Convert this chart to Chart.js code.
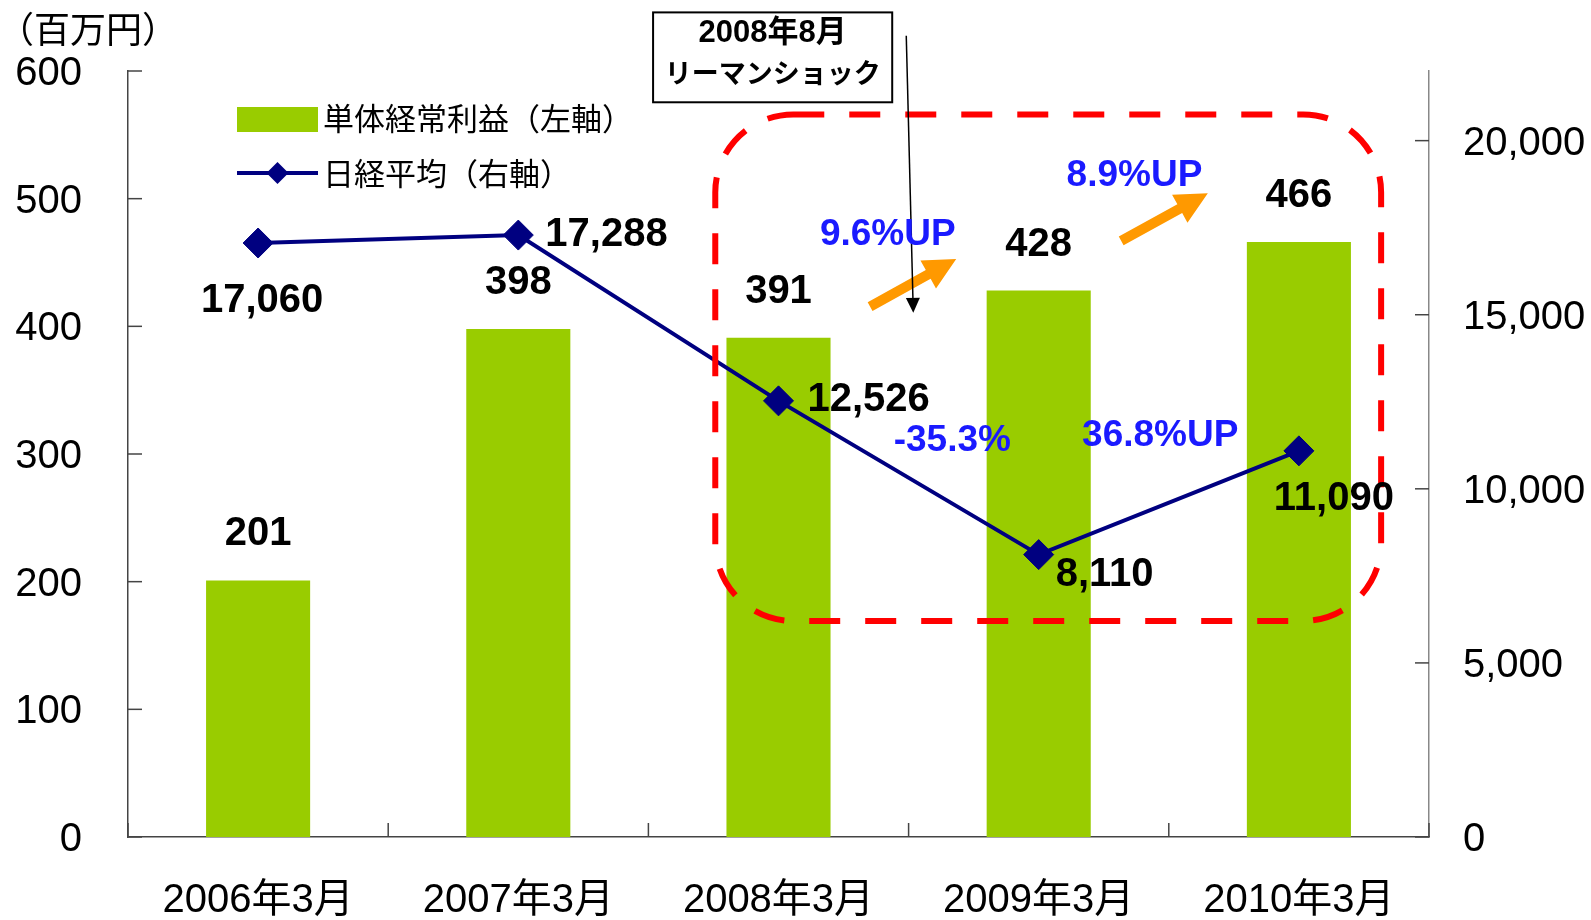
<!DOCTYPE html>
<html><head><meta charset="utf-8">
<script src="https://cdn.jsdelivr.net/npm/chart.js@4/dist/chart.umd.min.js"></script>
<style>html,body{margin:0;padding:0;background:#fff;}#wrap{width:1591px;height:920px;}</style>
</head><body><div id="wrap"><canvas id="c" width="1591" height="920"></canvas></div>
<script>
// ---- data ----
const categories = ['2006年3月','2007年3月','2008年3月','2009年3月','2010年3月'];
const profitValues = [201, 398, 391, 428, 466];
const nikkeiValues = [17060, 17288, 12526, 8110, 11090];
const leftTicks = [0, 100, 200, 300, 400, 500, 600];
const rightTicks = [0, 5000, 10000, 15000, 20000];
const leftAxisMax = 600;
const rightAxisMax = 22000;
const seriesNames = ['単体経常利益（左軸）', '日経平均（右軸）'];
const unitLabel = '（百万円）';
const eventLines = ['2008年8月', 'リーマンショック'];
const changeTexts = ['9.6%UP', '8.9%UP', '-35.3%', '36.8%UP'];

// ---- layout of decorations (in scale units: x = category index, y = left-axis value) ----
const changePos = [[2.42, 471.6], [3.368, 517.9], [2.668, 310.7], [3.467, 314.6]];
const orangeArrows = [[2.352, 415.4, 2.683, 452.8], [3.317, 467, 3.650, 504.2]];
const eventBox = [1.518, 645.9, 2.437, 575.5];
const eventArrow = [2.491, 627.6, 2.518, 410.6];
const focusRect = [1.757, 566, 4.316, 169.2];
const lineLabelOffsets = [[4, 58, 'center'], [27, 0, 'left'], [29, -1, 'left'], [17, 20, 'left'], [35, 48, 'center']];

const numFont = "'Liberation Sans', Arial, 'Noto Sans CJK JP', sans-serif";
const cjkFont = "'Noto Sans CJK JP', 'Liberation Sans', sans-serif";
const fmt = v => v.toLocaleString('en-US');

function blockArrow(ctx, x1, y1, x2, y2, sw, hw, hl, color) {
  const a = Math.atan2(y2 - y1, x2 - x1), len = Math.hypot(x2 - x1, y2 - y1);
  ctx.save(); ctx.translate(x1, y1); ctx.rotate(a);
  ctx.beginPath();
  ctx.moveTo(0, -sw / 2); ctx.lineTo(len - hl, -sw / 2); ctx.lineTo(len - hl, -hw / 2);
  ctx.lineTo(len, 0); ctx.lineTo(len - hl, hw / 2); ctx.lineTo(len - hl, sw / 2); ctx.lineTo(0, sw / 2);
  ctx.closePath(); ctx.fillStyle = color; ctx.fill(); ctx.restore();
}
function roundRectPath(ctx, x, y, w, h, r) {
  ctx.beginPath();
  ctx.moveTo(x + r, y); ctx.lineTo(x + w - r, y); ctx.arcTo(x + w, y, x + w, y + r, r);
  ctx.lineTo(x + w, y + h - r); ctx.arcTo(x + w, y + h, x + w - r, y + h, r);
  ctx.lineTo(x + r, y + h); ctx.arcTo(x, y + h, x, y + h - r, r);
  ctx.lineTo(x, y + r); ctx.arcTo(x, y, x + r, y, r); ctx.closePath();
}

const decor = {
  id: 'decor',
  afterDatasetsDraw(chart) {
    const ctx = chart.ctx, xs = chart.scales.x, yl = chart.scales.y, yr = chart.scales.y2, ca = chart.chartArea;
    const PX = v => xs.getPixelForValue(v), PY = v => yl.getPixelForValue(v);
    ctx.save();
    // inward tick marks
    ctx.strokeStyle = '#444'; ctx.lineWidth = 1.5;
    yl.ticks.forEach(t => { const y = yl.getPixelForValue(t.value); ctx.beginPath(); ctx.moveTo(ca.left, y); ctx.lineTo(ca.left + 14, y); ctx.stroke(); });
    yr.ticks.forEach(t => { const y = yr.getPixelForValue(t.value); ctx.beginPath(); ctx.moveTo(ca.right, y); ctx.lineTo(ca.right - 14, y); ctx.stroke(); });
    for (let i = 0; i <= categories.length; i++) { const x = PX(i - 0.5); ctx.beginPath(); ctx.moveTo(x, ca.bottom); ctx.lineTo(x, ca.bottom - 14); ctx.stroke(); }

    // red dashed focus rect
    const rx = PX(focusRect[0]), ry = PY(focusRect[1]), rw = PX(focusRect[2]) - rx, rh = PY(focusRect[3]) - ry;
    ctx.setLineDash([31, 25]); ctx.lineWidth = 6; ctx.strokeStyle = '#ff0000';
    roundRectPath(ctx, rx, ry, rw, rh, 78); ctx.stroke(); ctx.setLineDash([]);

    // orange arrows
    orangeArrows.forEach(a => blockArrow(ctx, PX(a[0]), PY(a[1]), PX(a[2]), PY(a[3]), 10, 32, 32, '#ff9900'));

    // event box
    const bx = PX(eventBox[0]), by = PY(eventBox[1]), bw = PX(eventBox[2]) - bx, bh = PY(eventBox[3]) - by;
    ctx.fillStyle = '#fff'; ctx.fillRect(bx, by, bw, bh);
    ctx.strokeStyle = '#000'; ctx.lineWidth = 2; ctx.strokeRect(bx, by, bw, bh);
    ctx.fillStyle = '#000'; ctx.textAlign = 'center'; ctx.textBaseline = 'middle';
    ctx.font = "bold 31px " + numFont; ctx.fillText(eventLines[0], bx + bw / 2, by + bh * 0.23);
    ctx.font = "bold 27px " + cjkFont; ctx.fillText(eventLines[1], bx + bw / 2, by + bh * 0.67);

    // thin black arrow
    const ax1 = PX(eventArrow[0]), ay1 = PY(eventArrow[1]), ax2 = PX(eventArrow[2]), ay2 = PY(eventArrow[3]);
    ctx.strokeStyle = '#000'; ctx.lineWidth = 1.5;
    const ang = Math.atan2(ay2 - ay1, ax2 - ax1);
    ctx.beginPath(); ctx.moveTo(ax1, ay1); ctx.lineTo(ax2 - 12 * Math.cos(ang), ay2 - 12 * Math.sin(ang)); ctx.stroke();
    ctx.save(); ctx.translate(ax2, ay2); ctx.rotate(ang);
    ctx.beginPath(); ctx.moveTo(0, 0); ctx.lineTo(-15, -7); ctx.lineTo(-15, 7); ctx.closePath(); ctx.fillStyle = '#000'; ctx.fill(); ctx.restore();

    // data labels
    ctx.font = "bold 40px " + numFont; ctx.fillStyle = '#000'; ctx.textBaseline = 'middle';
    const barMeta = chart.getDatasetMeta(0), lineMeta = chart.getDatasetMeta(1);
    barMeta.data.forEach((el, i) => { ctx.textAlign = 'center'; ctx.fillText(fmt(profitValues[i]), el.x, el.y - 46); });
    lineMeta.data.forEach((el, i) => { const o = lineLabelOffsets[i]; ctx.textAlign = o[2]; ctx.fillText(fmt(nikkeiValues[i]), el.x + o[0], el.y + o[1]); });

    // blue change labels
    ctx.font = "bold 37px " + numFont; ctx.fillStyle = '#1a1aff'; ctx.textAlign = 'center';
    changeTexts.forEach((t, i) => ctx.fillText(t, PX(changePos[i][0]), PY(changePos[i][1])));

    // legend
    const lx = ca.left + 109;
    ctx.fillStyle = '#99cc00'; ctx.fillRect(lx, ca.top + 36, 81, 25);
    ctx.strokeStyle = '#000080'; ctx.lineWidth = 4;
    ctx.beginPath(); ctx.moveTo(lx, ca.top + 102); ctx.lineTo(lx + 81, ca.top + 102); ctx.stroke();
    ctx.beginPath(); ctx.moveTo(lx + 40.5, ca.top + 102 - 11); ctx.lineTo(lx + 51.5, ca.top + 102); ctx.lineTo(lx + 40.5, ca.top + 102 + 11); ctx.lineTo(lx + 29.5, ca.top + 102); ctx.closePath();
    ctx.fillStyle = '#000080'; ctx.fill();
    ctx.font = "31px " + cjkFont; ctx.fillStyle = '#000'; ctx.textAlign = 'left';
    ctx.fillText(seriesNames[0], lx + 86, ca.top + 47);
    ctx.fillText(seriesNames[1], lx + 86, ca.top + 102);

    // unit label
    ctx.font = "36px " + cjkFont; ctx.fillText(unitLabel, -2, 29);
    ctx.restore();
  }
};

new Chart(document.getElementById('c'), {
  type: 'bar',
  data: {
    labels: categories,
    datasets: [
      { type: 'bar', label: seriesNames[0], data: profitValues, backgroundColor: '#99cc00', yAxisID: 'y', barPercentage: 0.4, categoryPercentage: 1, order: 2 },
      { type: 'line', label: seriesNames[1], data: nikkeiValues, yAxisID: 'y2', borderColor: '#000080', borderWidth: 4,
        pointStyle: 'rectRot', pointRadius: 15, pointBackgroundColor: '#000080', pointBorderColor: '#000080', pointBorderWidth: 1, tension: 0, order: 1 }
    ]
  },
  options: {
    responsive: false, animation: false, devicePixelRatio: 1,
    layout: { padding: { top: 71, left: 0, right: 0, bottom: 0 } },
    plugins: { legend: { display: false }, tooltip: { enabled: false }, title: { display: false } },
    scales: {
      x: {
        offset: true,
        grid: { display: false, drawTicks: false, offset: true },
        border: { display: true, color: '#444', width: 1.5 },
        ticks: { padding: 40, color: '#000', font: { size: 40, family: numFont } },
        afterFit: s => { s.height = 83; }
      },
      y: {
        position: 'left', min: 0, max: leftAxisMax,
        grid: { display: false, drawTicks: false },
        border: { display: true, color: '#444', width: 1.5 },
        ticks: { padding: 46, labelOffset: 3, color: '#000', font: { size: 40, family: numFont } },
        afterBuildTicks: s => { s.ticks = leftTicks.map(v => ({ value: v })); },
        afterFit: s => { s.width = 128; }
      },
      y2: {
        position: 'right', min: 0, max: rightAxisMax,
        grid: { display: false, drawTicks: false },
        border: { display: true, color: '#888', width: 1.5 },
        ticks: { padding: 34, labelOffset: 3, color: '#000', font: { size: 40, family: numFont }, callback: v => fmt(v) },
        afterBuildTicks: s => { s.ticks = rightTicks.map(v => ({ value: v })); },
        afterFit: s => { s.width = 162; }
      }
    }
  },
  plugins: [decor]
});
</script></body></html>
